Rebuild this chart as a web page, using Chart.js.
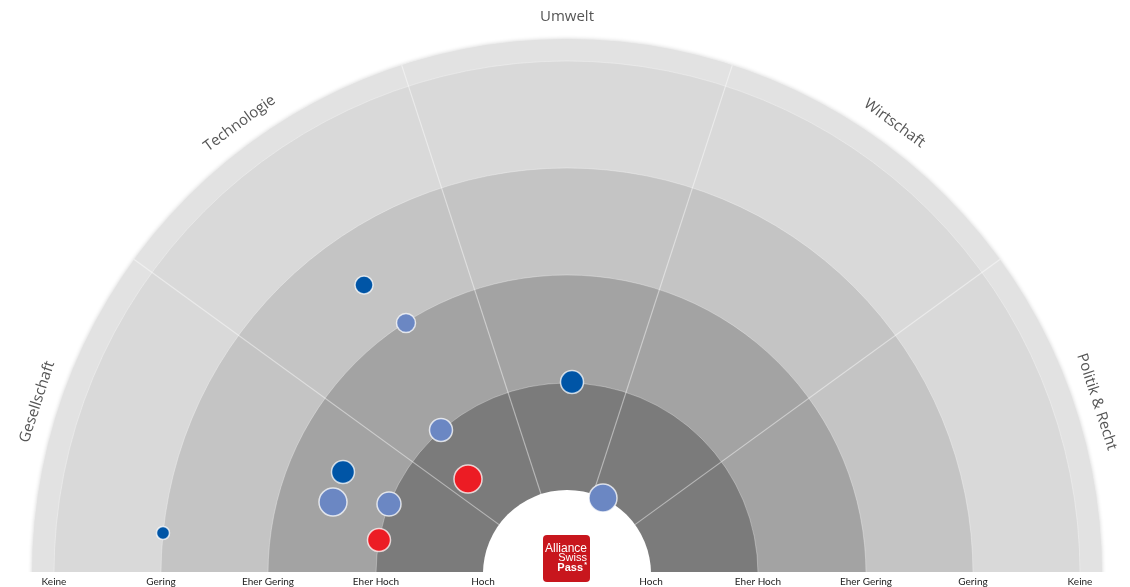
<!DOCTYPE html>
<html>
<head>
<meta charset="utf-8">
<script src="https://cdn.jsdelivr.net/npm/chart.js@4"></script>
<style>
  body{margin:0;background:#fff;}
  #wrap{width:1130px;height:587px;}
</style>
</head>
<body>
<div id="wrap"><canvas id="radar" width="1130" height="587"></canvas></div>
<script>
// sectors (left to right) and level ticks
const sectors=["Gesellschaft","Technologie","Umwelt","Wirtschaft","Politik & Recht"];
const levelLabels=["Keine","Gering","Eher Gering","Eher Hoch","Hoch"];
// radius of each level boundary (outer -> inner), in axis units
const levelRadius=[513,406,299,191,84];
const outerRadius=535;
const ringColors=["#d9d9d9","#c4c4c4","#a3a3a3","#7b7b7b"];

// bubbles, x/y relative to the centre of the half circle
const darkX=[-203,5,-224,-404];
const darkY=[289,192,102,41];
const darkR=[9,11.5,11.5,6.5];

const lightX=[-161,-126,-234,-178,36];
const lightY=[251,144,72,70,76];
const lightR=[9.5,11.5,14,12,14];

const redX=[-99,-188];
const redY=[95,34];
const redR=[14,11.5];

const tickValues=levelRadius.map(v=>-v).concat(levelRadius.slice().reverse());
const tickText=levelLabels.concat(levelLabels.slice().reverse());

function pts(xs,ys,rs){ return xs.map((x,i)=>({x:x,y:ys[i],r:rs[i]})); }

const rings={
  id:'rings',
  beforeDatasetsDraw(chart){
    const {ctx,chartArea:a,scales:{x,y}}=chart;
    const cx=x.getPixelForValue(0), cy=y.getPixelForValue(0);
    const u=x.getPixelForValue(1)-cx;
    ctx.save();
    ctx.beginPath(); ctx.rect(a.left,a.top,a.right-a.left,a.bottom-a.top); ctx.clip();
    // outer band with soft shadow
    ctx.shadowColor='rgba(0,0,0,0.18)'; ctx.shadowBlur=4;
    ctx.beginPath(); ctx.arc(cx,cy,outerRadius*u,0,Math.PI*2); ctx.fillStyle='#e2e2e2'; ctx.fill();
    ctx.shadowColor='transparent'; ctx.shadowBlur=0;
    levelRadius.slice(0,4).forEach((r,i)=>{
      ctx.beginPath(); ctx.arc(cx,cy,r*u,0,Math.PI*2); ctx.fillStyle=ringColors[i]; ctx.fill();
    });
    // thin light ring edges
    ctx.strokeStyle='rgba(255,255,255,0.3)'; ctx.lineWidth=1;
    levelRadius.slice(0,4).forEach(r=>{ ctx.beginPath(); ctx.arc(cx,cy,r*u,Math.PI,Math.PI*2); ctx.stroke(); });
    // sector dividers
    ctx.strokeStyle='rgba(255,255,255,0.45)'; ctx.lineWidth=1.2;
    for(let i=1;i<sectors.length;i++){
      const t=Math.PI-i*Math.PI/sectors.length;
      ctx.beginPath();
      ctx.moveTo(cx+Math.cos(t)*levelRadius[4]*u, cy-Math.sin(t)*levelRadius[4]*u);
      ctx.lineTo(cx+Math.cos(t)*outerRadius*u, cy-Math.sin(t)*outerRadius*u);
      ctx.stroke();
    }
    // hole
    ctx.beginPath(); ctx.arc(cx,cy,levelRadius[4]*u,0,Math.PI*2); ctx.fillStyle='#fff'; ctx.fill();
    ctx.restore();
  },
  afterDraw(chart){
    const {ctx,scales:{x,y}}=chart;
    const cx=x.getPixelForValue(0), cy=y.getPixelForValue(0);
    const u=x.getPixelForValue(1)-cx;
    ctx.save();
    // sector names
    ctx.font='15px "Open Sans"'; ctx.fillStyle='#555'; ctx.textAlign='center'; ctx.textBaseline='middle';
    sectors.forEach((s,i)=>{
      const t=Math.PI-(i+0.5)*Math.PI/sectors.length;
      const r=557*u;
      ctx.save();
      ctx.translate(cx+Math.cos(t)*r, cy-Math.sin(t)*r);
      ctx.rotate(Math.PI/2-t);
      ctx.fillText(s,0,0);
      ctx.restore();
    });
    // logo
    ctx.fillStyle='#c8161d';
    ctx.beginPath(); ctx.roundRect(cx-24,cy-39,47,47,4); ctx.fill();
    ctx.fillStyle='#fff'; ctx.textAlign='right'; ctx.textBaseline='middle';
    ctx.font='12px "Liberation Sans"';
    ctx.fillText('Alliance',cx+20,cy-25);
    ctx.font='11px "Liberation Sans"';
    ctx.fillText('Swiss',cx+20,cy-16);
    ctx.font='bold 11px "Liberation Sans"';
    ctx.fillText('Pass',cx+16,cy-6);
    ctx.font='bold 7px "Liberation Sans"';
    ctx.fillText('*',cx+20,cy-9);
    ctx.restore();
  }
};

const ring='rgba(255,255,255,0.75)';
new Chart(document.getElementById('radar'),{
  type:'bubble',
  data:{datasets:[
    {label:'dunkel',data:pts(darkX,darkY,darkR),backgroundColor:'#0055a6',borderColor:ring,borderWidth:1.5},
    {label:'hell',data:pts(lightX,lightY,lightR),backgroundColor:'#6b87c3',borderColor:ring,borderWidth:1.5},
    {label:'rot',data:pts(redX,redY,redR),backgroundColor:'#ec1c24',borderColor:ring,borderWidth:1.5}
  ]},
  options:{
    responsive:false,animation:false,
    layout:{padding:0,autoPadding:false},
    plugins:{legend:{display:false},tooltip:{enabled:false}},
    scales:{
      x:{type:'linear',min:-567,max:563,
        grid:{display:false,drawTicks:false},border:{display:false},
        afterBuildTicks(s){ s.ticks=tickValues.map(v=>({value:v})); },
        afterFit(s){ s.height=15; s.paddingLeft=0; s.paddingRight=0; },
        ticks:{autoSkip:false,maxRotation:0,padding:4,color:'#222',font:{family:'Lato',size:10},
          callback:(v,i)=>tickText[i]}},
      y:{type:'linear',min:2,max:574,display:false}
    }
  },
  plugins:[rings]
});
</script>
</body>
</html>
